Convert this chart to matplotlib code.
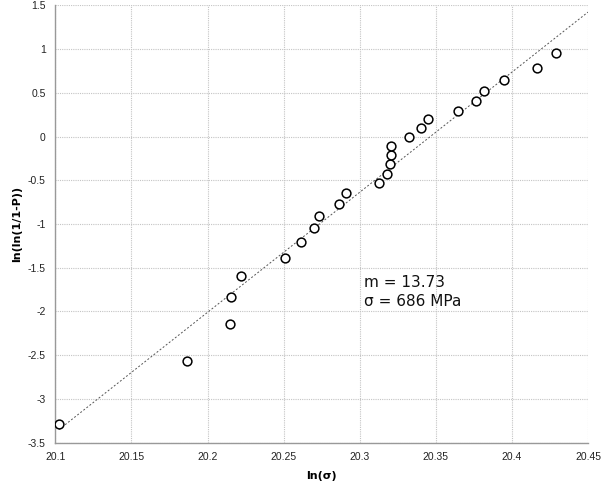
import numpy as np
import matplotlib
matplotlib.use("Agg")
import matplotlib.pyplot as plt

# measured points: ln(sigma) vs ln(ln(1/(1-P)))
ln_sigma = [20.1024, 20.1863, 20.2148, 20.2155, 20.2218, 20.2512, 20.2614, 20.2699,
            20.2735, 20.2865, 20.2911, 20.3129, 20.3179, 20.3201, 20.3207, 20.3207,
            20.3327, 20.3403, 20.3449, 20.3645, 20.3765, 20.3817, 20.3948, 20.4162,
            20.4288]
ln_ln = [-3.282, -2.569, -2.146, -1.837, -1.594, -1.388, -1.205, -1.049,
         -0.908, -0.774, -0.649, -0.534, -0.425, -0.317, -0.214, -0.111,
         -0.01, 0.094, 0.197, 0.295, 0.403, 0.517, 0.643, 0.787,
         0.955]

m = 13.73
sigma0 = 686e6

fig = plt.figure(figsize=(6.02, 4.86), dpi=100)
ax = fig.add_axes([0.0919, 0.0891, 0.8848, 0.8999])

# trendline
xl = np.array([min(ln_sigma), 20.45])
ax.plot(xl, m * (xl - np.log(sigma0)), linestyle=(0, (2, 2)), color="#555555", linewidth=0.7, zorder=2)

ax.scatter(ln_sigma, ln_ln, s=40, facecolor="white", edgecolor="black", linewidth=1.1, zorder=3)

ax.set_xlim(20.1, 20.45)
ax.set_ylim(-3.5, 1.5)
ax.set_xticks(np.arange(20.1, 20.451, 0.05))
ax.set_xticklabels(["20.1", "20.15", "20.2", "20.25", "20.3", "20.35", "20.4", "20.45"])
ax.set_yticks(np.arange(-3.5, 1.51, 0.5))
ax.set_yticklabels(["-3.5", "-3", "-2.5", "-2", "-1.5", "-1", "-0.5", "0", "0.5", "1", "1.5"])
ax.tick_params(length=0, labelsize=7.5, colors="#222222", pad=7)
for lab in ax.get_xticklabels() + ax.get_yticklabels():
    lab.set_family("Liberation Sans")

ax.grid(True, color="#c4c4c4", linestyle=(0, (1, 1)), linewidth=0.8)
ax.set_axisbelow(True)
for s in ["top", "right"]:
    ax.spines[s].set_visible(False)
for s in ["left", "bottom"]:
    ax.spines[s].set_color("#999999")
    ax.spines[s].set_linewidth(1.0)

ax.set_xlabel("ln(σ)", fontsize=8, fontweight="bold", labelpad=6)
ax.set_ylabel("ln(ln(1/1-P))", fontsize=8, fontweight="bold", labelpad=4)

ax.text(20.303, -1.78, "m = 13.73\nσ = 686 MPa", fontsize=11, linespacing=1.3,
        va="center", ha="left", color="#111111")

fig.savefig("out.png", dpi=100)
